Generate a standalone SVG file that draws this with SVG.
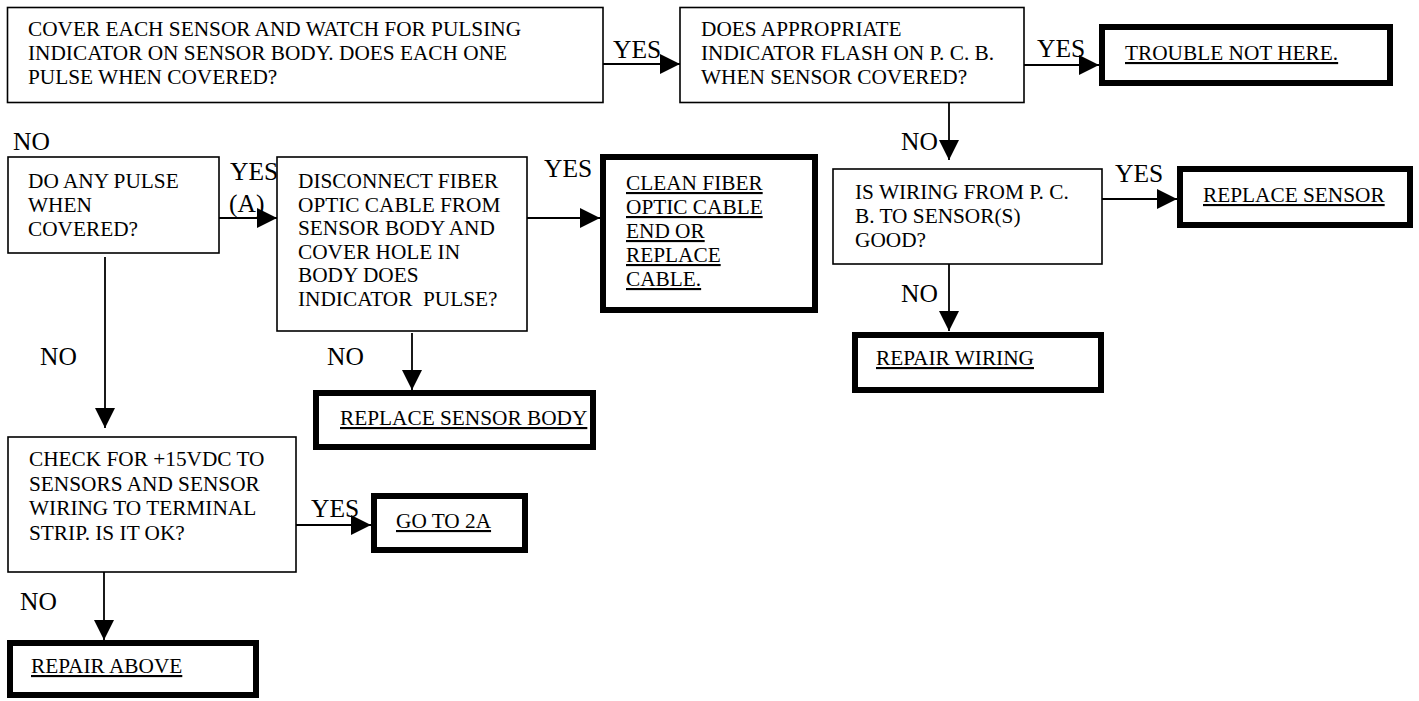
<svg xmlns="http://www.w3.org/2000/svg" width="1419" height="701" viewBox="0 0 1419 701">
<defs>
<style>
.thin{fill:#fff;stroke:#000;stroke-width:1.6}
.thick{fill:#fff;stroke:#000;stroke-width:6}
.t{font-family:"Liberation Serif","Times New Roman",serif;font-size:21.3px;fill:#000}
.u{text-decoration:underline}
.lbl{font-family:"Liberation Serif","Times New Roman",serif;font-size:25.5px;fill:#000}
.c{fill:none;stroke:#000;stroke-width:1.8}
</style>
<marker id="ah" markerUnits="userSpaceOnUse" markerWidth="20" markerHeight="20" refX="20" refY="10" orient="auto">
<path d="M0,0 L20,10 L0,20 Z" fill="#000"/>
</marker>
</defs>
<rect width="1419" height="701" fill="#fff"/>

<g id="connectors">
<path class="c" d="M603,64 H680" marker-end="url(#ah)"/>
<path class="c" d="M1024,65 H1099" marker-end="url(#ah)"/>
<path class="c" d="M949,103 V160" marker-end="url(#ah)"/>
<path class="c" d="M1102,199 H1177" marker-end="url(#ah)"/>
<path class="c" d="M949,256 V331" marker-end="url(#ah)"/>
<path class="c" d="M219,218 H277" marker-end="url(#ah)"/>
<path class="c" d="M527,218 H600" marker-end="url(#ah)"/>
<path class="c" d="M412,333 V390" marker-end="url(#ah)"/>
<path class="c" d="M105,257 V428" marker-end="url(#ah)"/>
<path class="c" d="M296,525 H371" marker-end="url(#ah)"/>
<path class="c" d="M104,563 V640" marker-end="url(#ah)"/>
<text class="lbl" x="613" y="58">YES</text>
<text class="lbl" x="1037" y="57">YES</text>
<text class="lbl" x="901" y="150">NO</text>
<text class="lbl" x="1115" y="182">YES</text>
<text class="lbl" x="901" y="302">NO</text>
<text class="lbl" x="13" y="150">NO</text>
<text class="lbl" x="230" y="180">YES</text>
<text class="lbl" x="229" y="212">(A)</text>
<text class="lbl" x="544" y="177">YES</text>
<text class="lbl" x="327" y="365">NO</text>
<text class="lbl" x="40" y="365">NO</text>
<text class="lbl" x="311" y="517">YES</text>
<text class="lbl" x="20" y="610">NO</text>
</g>

<g id="n1">
<rect class="thin" x="7.5" y="7.5" width="595.5" height="95"/>
<text class="t" x="28" y="36">COVER EACH SENSOR AND WATCH FOR PULSING</text>
<text class="t" x="28" y="60">INDICATOR ON SENSOR BODY. DOES EACH ONE</text>
<text class="t" x="28" y="84">PULSE WHEN COVERED?</text>
</g>

<g id="n2">
<rect class="thin" x="680" y="7.5" width="344" height="95"/>
<text class="t" x="701" y="36">DOES APPROPRIATE</text>
<text class="t" x="701" y="60">INDICATOR FLASH ON P. C. B.</text>
<text class="t" x="701" y="84">WHEN SENSOR COVERED?</text>
</g>

<g id="n3">
<rect class="thick" x="1102" y="27" width="288" height="56"/>
<text class="t u" x="1125" y="60">TROUBLE NOT HERE.</text>
</g>

<g id="n4">
<rect class="thin" x="833" y="169" width="269" height="95"/>
<text class="t" x="855" y="199">IS WIRING FROM P. C.</text>
<text class="t" x="855" y="223">B. TO SENSOR(S)</text>
<text class="t" x="855" y="247">GOOD?</text>
</g>

<g id="n5">
<rect class="thick" x="1180" y="169" width="230" height="56"/>
<text class="t u" x="1203" y="202">REPLACE SENSOR</text>
</g>

<g id="n6">
<rect class="thick" x="855" y="335" width="246" height="55"/>
<text class="t u" x="876" y="365">REPAIR WIRING</text>
</g>

<g id="n7">
<rect class="thin" x="8" y="157" width="211" height="96"/>
<text class="t" x="28" y="188">DO ANY PULSE</text>
<text class="t" x="28" y="212">WHEN</text>
<text class="t" x="28" y="236">COVERED?</text>
</g>

<g id="n8">
<rect class="thin" x="277" y="157" width="250" height="174"/>
<text class="t" x="298" y="188">DISCONNECT FIBER</text>
<text class="t" x="298" y="211.5">OPTIC CABLE FROM</text>
<text class="t" x="298" y="235">SENSOR BODY AND</text>
<text class="t" x="298" y="258.5">COVER HOLE IN</text>
<text class="t" x="298" y="282">BODY DOES</text>
<text class="t" x="298" y="305.5" xml:space="preserve" style="white-space:pre">INDICATOR  PULSE?</text>
</g>

<g id="n9">
<rect class="thick" x="603" y="157" width="212" height="153"/>
<text class="t u" x="626" y="190">CLEAN FIBER</text>
<text class="t u" x="626" y="214">OPTIC CABLE</text>
<text class="t u" x="626" y="238">END OR</text>
<text class="t u" x="626" y="262">REPLACE</text>
<text class="t u" x="626" y="286">CABLE.</text>
</g>

<g id="n10">
<rect class="thick" x="316" y="393" width="277" height="54"/>
<text class="t u" x="340" y="425">REPLACE SENSOR BODY</text>
</g>

<g id="n11">
<rect class="thin" x="8" y="437" width="288" height="135"/>
<text class="t" x="29" y="466">CHECK FOR +15VDC TO</text>
<text class="t" x="29" y="490.5">SENSORS AND SENSOR</text>
<text class="t" x="29" y="515">WIRING TO TERMINAL</text>
<text class="t" x="29" y="539.5">STRIP. IS IT OK?</text>
</g>

<g id="n12">
<rect class="thick" x="374" y="496" width="151" height="54"/>
<text class="t u" x="396" y="528">GO TO 2A</text>
</g>

<g id="n13">
<rect class="thick" x="10" y="643" width="246" height="52"/>
<text class="t u" x="31" y="673">REPAIR ABOVE</text>
</g>
</svg>
